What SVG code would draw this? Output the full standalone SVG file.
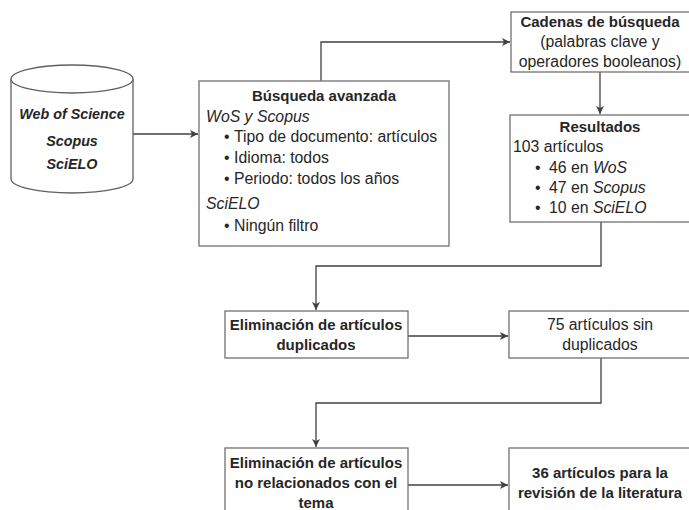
<svg xmlns="http://www.w3.org/2000/svg" width="689" height="510" viewBox="0 0 689 510">
<style>
  .box { fill: #ffffff; stroke: #707070; stroke-width: 1.3; }
  .cyl { fill: #ffffff; stroke: #606060; stroke-width: 1.3; }
  .t { font-family: "Liberation Sans", Arial, sans-serif; font-size: 15.8px; fill: #262626; }
  .b { font-weight: bold; font-size: 15px; }
  .i { font-style: italic; }
  .c { text-anchor: middle; }
  .db { font-size: 14.3px; }
  .edge { fill: none; stroke: #404040; stroke-width: 1.3; }
</style>
<defs>
  <marker id="arr" markerWidth="10" markerHeight="10" refX="9" refY="5" orient="auto" markerUnits="userSpaceOnUse">
    <path d="M1,1 L9,5 L1,9 L3,5 Z" fill="#404040"/>
  </marker>
</defs>
<rect width="689" height="510" fill="#ffffff"/>

<g id="connectors">
  <line class="edge" x1="133" y1="134" x2="198" y2="134" marker-end="url(#arr)"/>
  <polyline class="edge" points="321,81 321,42 510,42" marker-end="url(#arr)"/>
  <line class="edge" x1="600" y1="72" x2="600" y2="114" marker-end="url(#arr)"/>
  <polyline class="edge" points="601,222 601,266 316,266 316,310" marker-end="url(#arr)"/>
  <line class="edge" x1="408" y1="336" x2="508" y2="336" marker-end="url(#arr)"/>
  <polyline class="edge" points="601,358 601,403 316,403 316,447" marker-end="url(#arr)"/>
  <line class="edge" x1="408" y1="485" x2="508" y2="485" marker-end="url(#arr)"/>
</g>

<g id="databases">
  <path class="cyl" d="M11,79 L11,179 A61,14 0 0 0 133,179 L133,79"/>
  <ellipse class="cyl" cx="72" cy="79" rx="61" ry="14"/>
  <text class="t b i c db" x="72" y="119">Web of Science</text>
  <text class="t b i c db" x="72" y="146">Scopus</text>
  <text class="t b i c db" x="72" y="169">SciELO</text>
</g>

<g id="busqueda">
  <rect class="box" x="199" y="81" width="250" height="165"/>
  <text class="t b c" x="324" y="101">Búsqueda avanzada</text>
  <text class="t i" x="206" y="122">WoS y Scopus</text>
  <text class="t" x="224" y="142">•</text>
  <text class="t" x="234" y="142">Tipo de documento: artículos</text>
  <text class="t" x="224" y="163">•</text>
  <text class="t" x="234" y="163">Idioma: todos</text>
  <text class="t" x="224" y="184">•</text>
  <text class="t" x="234" y="184">Periodo: todos los años</text>
  <text class="t i" x="206" y="209">SciELO</text>
  <text class="t" x="224" y="231">•</text>
  <text class="t" x="234" y="231">Ningún filtro</text>
</g>

<g id="cadenas">
  <rect class="box" x="511" y="12" width="190" height="60"/>
  <text class="t b c" x="600" y="27">Cadenas de búsqueda</text>
  <text class="t c" x="600" y="47">(palabras clave y</text>
  <text class="t c" x="600" y="67">operadores booleanos)</text>
</g>

<g id="resultados">
  <rect class="box" x="510" y="115" width="190" height="107"/>
  <text class="t b c" x="600" y="132">Resultados</text>
  <text class="t" x="513" y="152">103 artículos</text>
  <text class="t" x="535" y="173">•</text>
  <text class="t" x="549" y="173">46 en <tspan class="i">WoS</tspan></text>
  <text class="t" x="535" y="193">•</text>
  <text class="t" x="549" y="193">47 en <tspan class="i">Scopus</tspan></text>
  <text class="t" x="535" y="213">•</text>
  <text class="t" x="549" y="213">10 en <tspan class="i">SciELO</tspan></text>
</g>

<g id="elim-duplicados">
  <rect class="box" x="225" y="311" width="183" height="47"/>
  <text class="t b c" x="316" y="330">Eliminación de artículos</text>
  <text class="t b c" x="316" y="350">duplicados</text>
</g>

<g id="sin-duplicados">
  <rect class="box" x="509" y="311" width="190" height="47"/>
  <text class="t c" x="600" y="330">75 artículos sin</text>
  <text class="t c" x="600" y="350">duplicados</text>
</g>

<g id="elim-no-relacionados">
  <rect class="box" x="225" y="448" width="183" height="70"/>
  <text class="t b c" x="316" y="468">Eliminación de artículos</text>
  <text class="t b c" x="316" y="488">no relacionados con el</text>
  <text class="t b c" x="316" y="508">tema</text>
</g>

<g id="revision">
  <rect class="box" x="509" y="448" width="190" height="70"/>
  <text class="t b c" x="600" y="478">36 artículos para la</text>
  <text class="t b c" x="600" y="498">revisión de la literatura</text>
</g>
</svg>
